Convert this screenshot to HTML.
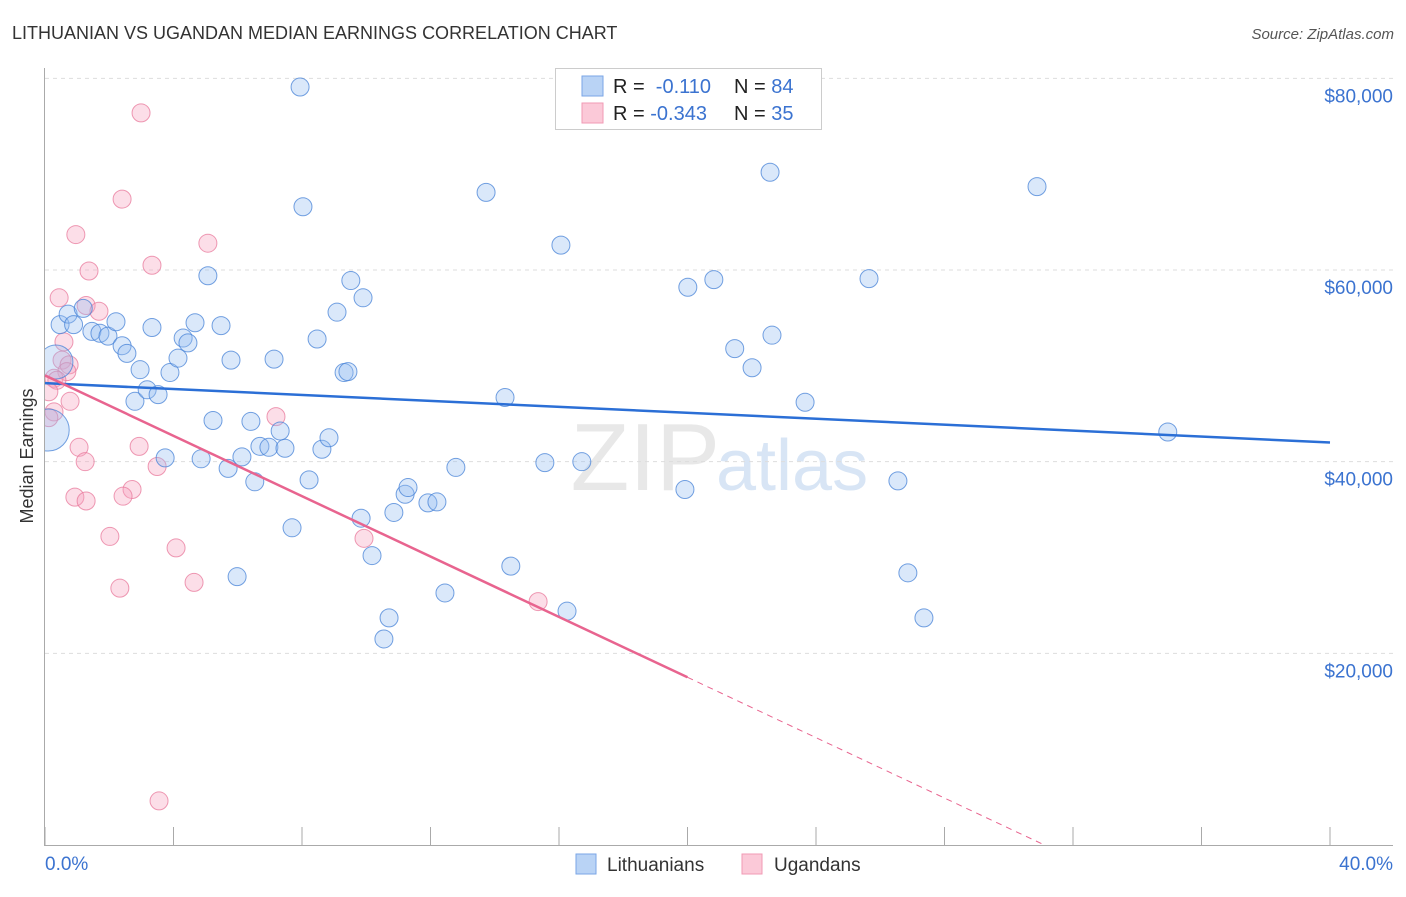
<!DOCTYPE html>
<html><head><meta charset="utf-8"><style>
body{margin:0;background:#fff;font-family:"Liberation Sans",sans-serif;}
text{font-family:"Liberation Sans",sans-serif;}
</style></head><body>
<svg id="chart" width="1406" height="892" xmlns="http://www.w3.org/2000/svg">
<defs><clipPath id="plotclip"><rect x="45" y="60" width="1360" height="785"/></clipPath></defs>
<text x="12" y="39" font-size="18" fill="#333">LITHUANIAN VS UGANDAN MEDIAN EARNINGS CORRELATION CHART</text>
<text x="1394" y="39" font-size="15" fill="#555" text-anchor="end" font-style="italic">Source: ZipAtlas.com</text>
<text transform="translate(33,456) rotate(-90)" font-size="18" fill="#333" text-anchor="middle">Median Earnings</text>
<text x="720" y="490" font-size="96" fill="#e8e8e8" text-anchor="end" font-family="Liberation Serif">ZIP</text>
<text x="716" y="490" font-size="72" fill="#d8e5f5">atlas</text>
<g id="grid"></g><g id="axes"></g><g id="pts" clip-path="url(#plotclip)"></g><g id="trends"></g>
<g>
<rect x="555.5" y="68.5" width="266" height="61" fill="#fff" stroke="#ccc"/>
<rect x="582" y="76" width="21" height="20" fill="#b9d3f5" stroke="#7aa6e6"/>
<rect x="582" y="103" width="21" height="20" fill="#fbc9d8" stroke="#f09ab4"/>
<text x="613" y="93" font-size="20" fill="#222">R = <tspan fill="#3b73d0">&#160;-0.110</tspan><tspan x="734">N = </tspan><tspan fill="#3b73d0">84</tspan></text>
<text x="613" y="120" font-size="20" fill="#222">R = <tspan fill="#3b73d0">-0.343</tspan><tspan x="734">N = </tspan><tspan fill="#3b73d0">35</tspan></text>
</g>
<g>
<rect x="576" y="854" width="20" height="20" fill="#b9d3f5" stroke="#7aa6e6"/>
<text x="607" y="871" font-size="19" fill="#333">Lithuanians</text>
<rect x="742" y="854" width="20" height="20" fill="#fbc9d8" stroke="#f09ab4"/>
<text x="774" y="871" font-size="19" fill="#333">Ugandans</text>
</g>
</svg>
<script>
const NS="http://www.w3.org/2000/svg";
const blueX=[7.94,0.34,0.1,0.47,0.72,0.89,1.19,1.46,1.71,1.96,2.21,2.40,2.55,2.96,2.80,3.18,3.52,3.33,3.89,4.14,4.30,4.45,4.67,5.07,5.23,5.48,5.79,3.74,4.86,5.70,6.13,6.53,6.41,6.69,6.97,7.47,7.32,7.13,5.98,7.69,8.03,8.22,8.47,8.62,8.84,9.09,9.31,9.43,9.52,9.90,9.84,10.18,10.71,10.55,10.86,11.21,11.30,11.92,12.20,12.45,12.79,13.73,14.32,14.50,15.56,16.06,16.25,16.71,19.92,20.01,20.82,21.47,22.01,22.57,22.63,23.66,25.65,26.55,26.86,27.36,30.88,34.95];
const blueY=[79.1,50.4,43.3,54.3,55.4,54.3,56.0,53.6,53.4,53.1,54.6,52.1,51.3,49.6,46.3,47.5,47.0,54.0,49.3,50.8,52.9,52.4,54.5,59.4,44.3,54.2,50.6,40.4,40.3,39.3,40.5,37.9,44.2,41.6,41.5,41.4,43.2,50.7,28.0,33.1,66.6,38.1,52.8,41.3,42.5,55.6,49.3,49.4,58.9,57.1,34.1,30.2,23.7,21.5,34.7,36.6,37.3,35.7,35.8,26.3,39.4,68.1,46.7,29.1,39.9,62.6,24.4,40.0,37.1,58.2,59.0,51.8,49.8,70.2,53.2,46.2,59.1,38.0,28.4,23.7,68.7,43.1];
const blueSize=blueX.map((v,i)=>i===1?17:(i===2?21:9));
const pinkX=[2.99,2.40,0.96,5.07,3.33,1.37,0.44,1.28,1.68,0.59,0.53,0.75,0.68,0.28,0.37,0.12,0.78,0.28,0.12,7.19,1.06,2.93,1.25,3.49,2.71,2.43,0.93,1.28,9.93,2.02,4.08,4.64,2.33,15.35,3.55];
const pinkY=[76.4,67.4,63.7,62.8,60.5,59.9,57.1,56.3,55.7,52.5,50.6,50.1,49.4,48.7,48.5,47.3,46.3,45.2,44.6,44.7,41.5,41.6,40.0,39.5,37.1,36.4,36.3,35.9,32.0,32.2,31.0,27.4,26.8,25.4,4.6];
const yTicks=[20000,40000,60000,80000];
const yTickLabels=["$20,000","$40,000","$60,000","$80,000"];
const xTicks=[0,4,8,12,16,20,24,28,32,36,40];
const blueTrend=[48.2,42.0];
const pinkTrend=[49.0,-1.575];
const pinkSolidEnd=20;
const X=v=>45+v*32.125;
const Y=k=>845-k*9.583;
function mk(t,a,p){const e=document.createElementNS(NS,t);for(const k in a)e.setAttribute(k,a[k]);p.appendChild(e);return e;}
const grid=document.getElementById('grid'),axes=document.getElementById('axes'),pts=document.getElementById('pts'),tr=document.getElementById('trends');
yTicks.forEach((v,i)=>{
 const l=mk('line',{x1:45,x2:1393,y1:Y(v/1000),y2:Y(v/1000),stroke:'#ddd','stroke-dasharray':'4,4'},grid);
 
 
 const t=mk('text',{x:1393,y:Y(v/1000)+24,'font-size':19,fill:'#3b73d0','text-anchor':'end'},grid);
 t.textContent=yTickLabels[i];
 
 
});
const ya=mk('line',{x1:44.5,x2:44.5,y1:68,y2:845,stroke:'#aaa'},axes);


const xa=mk('line',{x1:44,x2:1393,y1:845.5,y2:845.5,stroke:'#aaa'},axes);


xTicks.forEach(v=>{const t=mk('line',{x1:X(v),x2:X(v),y1:827,y2:845,stroke:'#aaa'},axes);
 
 });
const xl0=mk('text',{x:45,y:870,'font-size':19,fill:'#3b73d0'},axes);xl0.textContent='0.0%';


const xl1=mk('text',{x:1393,y:870,'font-size':19,fill:'#3b73d0','text-anchor':'end'},axes);xl1.textContent='40.0%';


pinkX.forEach((v,i)=>{const c=mk('circle',{cx:X(v),cy:Y(pinkY[i]),r:9,fill:'rgba(246,160,188,0.35)',stroke:'rgba(232,120,155,0.75)','stroke-width':1},pts);
 
 });
blueX.forEach((v,i)=>{const c=mk('circle',{cx:X(v),cy:Y(blueY[i]),r:blueSize[i],fill:'rgba(150,190,240,0.35)',stroke:'rgba(70,130,215,0.75)','stroke-width':1},pts);
 
 });
const bt=mk('line',{x1:X(0),y1:Y(blueTrend[0]),x2:X(40),y2:Y(blueTrend[1]),stroke:'#2b6fd6','stroke-width':2.5},tr);


const pv=x=>pinkTrend[0]+pinkTrend[1]*x;
const pt=mk('line',{x1:X(0),y1:Y(pv(0)),x2:X(pinkSolidEnd),y2:Y(pv(pinkSolidEnd)),stroke:'#e8648f','stroke-width':2.5},tr);


const zx=-pinkTrend[0]/pinkTrend[1];
const pd=mk('line',{x1:X(pinkSolidEnd),y1:Y(pv(pinkSolidEnd)),x2:X(zx),y2:Y(0),stroke:'#e8648f','stroke-width':1,'stroke-dasharray':'6,5'},tr);


</script>
</body></html>
